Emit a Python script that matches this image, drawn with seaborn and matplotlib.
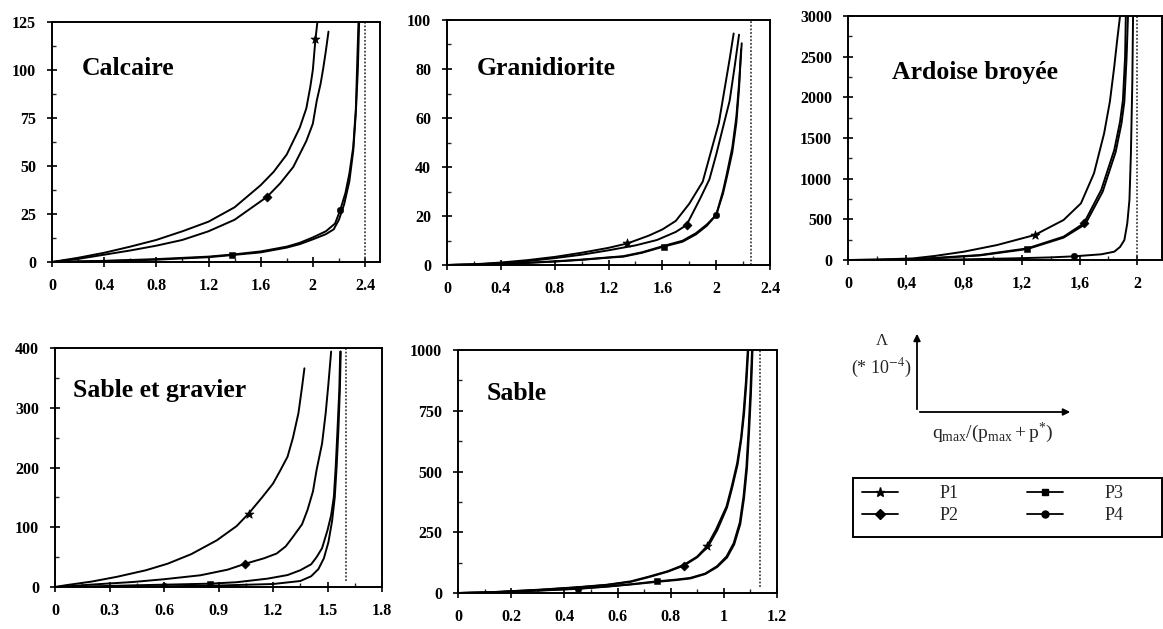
import numpy as np
import pandas as pd
import matplotlib
matplotlib.use("Agg")
import matplotlib.pyplot as plt
from matplotlib.lines import Line2D
from matplotlib.patches import Rectangle, FancyArrowPatch
from matplotlib.ticker import AutoMinorLocator, FixedLocator, FixedFormatter
import seaborn as sns

sns.set_theme(style="white")
plt.rcParams['font.family'] = ['Liberation Serif', 'DejaVu Serif']
plt.rcParams['mathtext.fontset'] = 'stix'

SERIES = ["P1", "P2", "P3", "P4"]
MARKERS = {"P1": "*", "P2": "D", "P3": "s", "P4": "o"}

# ---------------- Calcaire ----------------
calc_title = "Calcaire"
calc_p1_x = [0, 0.2, 0.4, 0.6, 0.8, 1.0, 1.2, 1.4, 1.6, 1.7, 1.8, 1.9, 1.95, 1.98, 2.0, 2.02, 2.035]
calc_p1_y = [0, 2.2, 4.8, 8, 11.5, 16, 21, 28.5, 40, 47, 56, 70, 80, 91, 100, 116, 125]
calc_p2_x = [0, 0.2, 0.4, 0.6, 0.8, 1.0, 1.2, 1.4, 1.65, 1.75, 1.85, 1.95, 2.0, 2.03, 2.06, 2.08, 2.1, 2.12]
calc_p2_y = [0, 1.6, 3.8, 6, 8.5, 11.5, 16, 22, 34, 41, 49.5, 63, 72, 84, 93, 101, 110, 120]
calc_p3_x = [0, 0.4, 0.8, 1.2, 1.38, 1.6, 1.8, 1.9, 2.0, 2.1, 2.16, 2.2, 2.24, 2.28, 2.31, 2.33, 2.345, 2.355]
calc_p3_y = [0, 0.5, 1.2, 2.5, 3.6, 5, 7.5, 9.3, 11.8, 14.5, 17, 22, 30, 42, 58, 78, 100, 125]
calc_p4_x = [0, 0.4, 0.8, 1.2, 1.4, 1.6, 1.8, 1.9, 2.0, 2.1, 2.17, 2.21, 2.25, 2.28, 2.31, 2.33, 2.34, 2.35]
calc_p4_y = [0, 0.6, 1.5, 2.8, 4, 5.5, 8, 10, 12.8, 16, 20, 27, 36, 46, 60, 80, 103, 125]
calc_asymptote = 2.4
calc_xticks = [0, 0.4, 0.8, 1.2, 1.6, 2, 2.4]
calc_xlabels = ["0", "0.4", "0.8", "1.2", "1.6", "2", "2.4"]
calc_yticks = [0, 25, 50, 75, 100, 125]

# ---------------- Granidiorite ----------------
gran_title = "Granidiorite"
gran_p1_x = [0, 0.2, 0.4, 0.6, 0.8, 1.0, 1.2, 1.34, 1.5, 1.6, 1.7, 1.8, 1.9, 1.96, 2.02, 2.06, 2.1, 2.13]
gran_p1_y = [0, 0.3, 1, 2, 3.3, 5, 7, 8.8, 12, 14.5, 18, 25, 34, 46, 58, 71, 84, 94.5]
gran_p2_x = [0, 0.2, 0.4, 0.6, 0.8, 1.0, 1.2, 1.4, 1.56, 1.7, 1.78, 1.88, 1.95, 2.0, 2.05, 2.1, 2.14, 2.17]
gran_p2_y = [0, 0.2, 0.8, 1.6, 2.8, 4.2, 6, 8, 10.2, 13.5, 16.3, 27, 35, 45, 56, 67, 82, 94]
gran_p3_x = [0, 0.4, 0.8, 1.0, 1.2, 1.31, 1.45, 1.61, 1.75, 1.85, 1.93, 2.0, 2.05, 2.08, 2.12, 2.15, 2.17, 2.19]
gran_p3_y = [0, 0.3, 1.4, 2.1, 3, 3.4, 5, 7.5, 9.5, 12.5, 16, 20.4, 30, 37.4, 48, 60.5, 74, 90.5]
gran_p4_x = [0, 0.4, 0.8, 1.0, 1.2, 1.31, 1.45, 1.61, 1.75, 1.85, 1.93, 2.0, 2.05, 2.08, 2.12, 2.15, 2.17, 2.185]
gran_p4_y = [0, 0.4, 1.5, 2.2, 3.1, 3.6, 5.2, 7.8, 9.9, 13, 16.5, 20.4, 29, 36, 46, 58, 72, 88]
gran_asymptote = 2.26
gran_xticks = [0, 0.4, 0.8, 1.2, 1.6, 2, 2.4]
gran_xlabels = ["0", "0.4", "0.8", "1.2", "1.6", "2", "2.4"]
gran_yticks = [0, 20, 40, 60, 80, 100]

# ---------------- Ardoise broyee ----------------
ard_title = "Ardoise broyée"
ard_p1_x = [0, 0.2, 0.45, 0.6, 0.8, 1.03, 1.29, 1.49, 1.61, 1.7, 1.77, 1.81, 1.84, 1.86, 1.88]
ard_p1_y = [0, 5, 20, 50, 102, 184, 307, 492, 697, 1066, 1557, 1950, 2377, 2700, 3000]
ard_p2_x = [0, 0.2, 0.45, 0.6, 0.91, 1.24, 1.49, 1.63, 1.75, 1.84, 1.88, 1.9, 1.915, 1.92]
ard_p2_y = [0, 2, 8, 25, 61, 143, 287, 451, 861, 1352, 1700, 1967, 2500, 3000]
ard_p3_x = [0, 0.2, 0.45, 0.6, 0.91, 1.24, 1.49, 1.64, 1.76, 1.85, 1.89, 1.91, 1.925, 1.935]
ard_p3_y = [0, 2, 7, 22, 56, 135, 275, 440, 840, 1330, 1680, 1950, 2480, 3000]
ard_p4_x = [0, 0.45, 0.8, 1.14, 1.4, 1.56, 1.75, 1.84, 1.88, 1.91, 1.93, 1.945, 1.955, 1.965, 1.97]
ard_p4_y = [0, 2, 8, 20, 32, 45, 70, 102, 160, 246, 450, 738, 1300, 2200, 3000]
ard_asymptote = 2.0
ard_xticks = [0, 0.4, 0.8, 1.2, 1.6, 2]
ard_xlabels = ["0", "0,4", "0,8", "1,2", "1,6", "2"]
ard_yticks = [0, 500, 1000, 1500, 2000, 2500, 3000]

# ---------------- Sable et gravier ----------------
sg_title = "Sable et gravier"
sg_p1_x = [0, 0.06, 0.2, 0.34, 0.5, 0.62, 0.75, 0.89, 1.0, 1.066, 1.14, 1.2, 1.24, 1.28, 1.31, 1.34, 1.36, 1.373]
sg_p1_y = [0, 3, 9, 17, 28, 39, 55, 78, 102, 123, 150, 173, 195, 218, 250, 291, 335, 366]
sg_p2_x = [0, 0.06, 0.2, 0.43, 0.6, 0.8, 0.95, 1.048, 1.15, 1.22, 1.27, 1.31, 1.36, 1.39, 1.42, 1.44, 1.47, 1.49, 1.505, 1.52]
sg_p2_y = [0, 1, 4, 8.4, 13, 19.6, 29, 39, 48, 56, 68, 84, 105, 129, 160, 196, 240, 291, 340, 394]
sg_p3_x = [0, 0.2, 0.43, 0.65, 0.855, 1.0, 1.17, 1.28, 1.35, 1.41, 1.44, 1.47, 1.5, 1.52, 1.535, 1.545, 1.555, 1.565, 1.57]
sg_p3_y = [0, 1, 2.8, 4.2, 5.6, 8, 14, 20, 28, 38, 50, 65, 95, 120, 151, 200, 263, 330, 394]
sg_p4_x = [0, 0.3, 0.6, 0.9, 1.2, 1.35, 1.41, 1.45, 1.48, 1.505, 1.525, 1.54, 1.55, 1.56, 1.568, 1.573]
sg_p4_y = [0, 0.5, 1.2, 2.5, 5, 10, 18, 30, 48, 75, 110, 150, 200, 263, 330, 394]
sg_asymptote = 1.6
sg_xticks = [0, 0.3, 0.6, 0.9, 1.2, 1.5, 1.8]
sg_xlabels = ["0", "0.3", "0.6", "0.9", "1.2", "1.5", "1.8"]
sg_yticks = [0, 100, 200, 300, 400]

# ---------------- Sable ----------------
sab_title = "Sable"
sab_p1_x = [0, 0.12, 0.31, 0.45, 0.56, 0.65, 0.72, 0.79, 0.85, 0.9, 0.936, 0.97, 1.01, 1.03, 1.05, 1.065, 1.074, 1.083, 1.09]
sab_p1_y = [0, 3, 14, 24, 34, 48, 68, 90, 116, 150, 192, 260, 356, 440, 534, 640, 740, 870, 1000]
sab_p2_x = [0, 0.12, 0.31, 0.45, 0.56, 0.65, 0.72, 0.79, 0.85, 0.9, 0.94, 0.975, 1.012, 1.032, 1.052, 1.066, 1.076, 1.085, 1.092]
sab_p2_y = [0, 3, 13, 23, 33, 46, 66, 88, 113, 147, 190, 258, 352, 436, 530, 636, 736, 866, 1000]
sab_p3_x = [0, 0.12, 0.31, 0.45, 0.56, 0.65, 0.748, 0.82, 0.873, 0.93, 0.974, 1.01, 1.037, 1.06, 1.074, 1.085, 1.093, 1.1, 1.106]
sab_p3_y = [0, 2, 11, 18, 27, 36, 48, 55, 62, 80, 110, 150, 205, 290, 397, 520, 671, 830, 1000]
sab_p4_x = [0, 0.12, 0.31, 0.45, 0.56, 0.65, 0.75, 0.82, 0.875, 0.93, 0.975, 1.012, 1.039, 1.062, 1.076, 1.087, 1.095, 1.102, 1.108]
sab_p4_y = [0, 2, 10, 17, 26, 35, 46, 53, 60, 78, 107, 146, 200, 284, 390, 512, 662, 820, 1000]
sab_asymptote = 1.135
sab_xticks = [0, 0.2, 0.4, 0.6, 0.8, 1, 1.2]
sab_xlabels = ["0", "0.2", "0.4", "0.6", "0.8", "1", "1.2"]
sab_yticks = [0, 250, 500, 750, 1000]

# index of the data point carrying each series' marker
panels = [
    dict(title=calc_title, rect=(52, 22, 380, 262), xlim=2.515,
         series=[(calc_p1_x, calc_p1_y, 15), (calc_p2_x, calc_p2_y, 8),
                 (calc_p3_x, calc_p3_y, 4), (calc_p4_x, calc_p4_y, 11)],
         asym=calc_asymptote, asym_y0=0, xticks=calc_xticks, xlabels=calc_xlabels,
         yticks=calc_yticks, title_xy=(0.091, 0.808)),
    dict(title=gran_title, rect=(447, 20, 770, 265), xlim=2.4,
         series=[(gran_p1_x, gran_p1_y, 7), (gran_p2_x, gran_p2_y, 10),
                 (gran_p3_x, gran_p3_y, 7), (gran_p4_x, gran_p4_y, 11)],
         asym=gran_asymptote, asym_y0=0, xticks=gran_xticks, xlabels=gran_xlabels,
         yticks=gran_yticks, title_xy=(0.093, 0.804)),
    dict(title=ard_title, rect=(848, 16, 1162, 260), xlim=2.17,
         series=[(ard_p1_x, ard_p1_y, 6), (ard_p2_x, ard_p2_y, 7),
                 (ard_p3_x, ard_p3_y, 5), (ard_p4_x, ard_p4_y, 5)],
         asym=ard_asymptote, asym_y0=0, xticks=ard_xticks, xlabels=ard_xlabels,
         yticks=ard_yticks, title_xy=(0.14, 0.77)),
    dict(title=sg_title, rect=(55, 348, 382, 587), xlim=1.8,
         series=[(sg_p1_x, sg_p1_y, 9), (sg_p2_x, sg_p2_y, 7),
                 (sg_p3_x, sg_p3_y, 4), (sg_p4_x, sg_p4_y, 2)],
         asym=sg_asymptote, asym_y0=10, xticks=sg_xticks, xlabels=sg_xlabels,
         yticks=sg_yticks, title_xy=(0.055, 0.824)),
    dict(title=sab_title, rect=(458, 350, 777, 593), xlim=1.2,
         series=[(sab_p1_x, sab_p1_y, 10), (sab_p2_x, sab_p2_y, 8),
                 (sab_p3_x, sab_p3_y, 6), (sab_p4_x, sab_p4_y, 3)],
         asym=sab_asymptote, asym_y0=25, xticks=sab_xticks, xlabels=sab_xlabels,
         yticks=sab_yticks, title_xy=(0.091, 0.823)),
]

W, H = 1163, 629
fig = plt.figure(figsize=(W / 100, H / 100), dpi=100)
fig.patch.set_facecolor("white")

for p in panels:
    l, t, r, b = p["rect"]
    ax = fig.add_axes([l / W, 1 - b / H, (r - l) / W, (b - t) / H])
    ymax = p["yticks"][-1]
    for name, (xs, ys, mi) in zip(SERIES, p["series"]):
        df = pd.DataFrame({"x": xs, "y": ys})
        sns.lineplot(data=df, x="x", y="y", sort=False, estimator=None,
                     color="black", lw=1.4, ax=ax)
        sns.scatterplot(x=[xs[mi]], y=[ys[mi]], marker=MARKERS[name], color="black",
                        s=22 if name != "P1" else 45, edgecolor="black", ax=ax, zorder=5)
    ax.plot([p["asym"], p["asym"]], [p["asym_y0"], ymax], color="#444444",
            lw=1.3, ls=(0, (1, 1)))
    ax.set_xlim(0, p["xlim"])
    ax.set_ylim(0, ymax)
    ax.xaxis.set_major_locator(FixedLocator(p["xticks"]))
    ax.xaxis.set_major_formatter(FixedFormatter(p["xlabels"]))
    ax.set_yticks(p["yticks"])
    ax.set_yticklabels([str(v) for v in p["yticks"]])
    ax.xaxis.set_minor_locator(AutoMinorLocator(2))
    ax.yaxis.set_minor_locator(AutoMinorLocator(2))
    ax.tick_params(which="major", direction="inout", length=7, width=1.2,
                   labelsize=11.5, colors="black", pad=8, bottom=True, left=True)
    ax.tick_params(which="minor", direction="in", length=3, width=1,
                   bottom=True, left=True)
    for lab in ax.get_xticklabels() + ax.get_yticklabels():
        lab.set_fontweight("bold")
    for sp in ax.spines.values():
        sp.set_visible(True)
        sp.set_color("black")
        sp.set_linewidth(1.4)
    ax.set_xlabel("")
    ax.set_ylabel("")
    ax.set_facecolor("white")
    ax.text(p["title_xy"][0], p["title_xy"][1], p["title"], transform=ax.transAxes,
            fontsize=18.5, fontweight="bold", color="black", ha="left", va="center")


def fx(px):
    return px / W


def fy(py):
    return 1 - py / H


# schematic axes
ox, oy = 917, 412
fig.add_artist(FancyArrowPatch((fx(ox), fy(oy)), (fx(ox), fy(331)),
               transform=fig.transFigure, arrowstyle="-|>", mutation_scale=10,
               color="black", lw=1.3))
fig.add_artist(FancyArrowPatch((fx(ox), fy(oy)), (fx(1073), fy(oy)),
               transform=fig.transFigure, arrowstyle="-|>", mutation_scale=10,
               color="black", lw=1.3))
fig.text(fx(882), fy(341), "Λ", ha="center", va="center", fontsize=12)
fig.text(fx(881), fy(368), "(* 10$^{-4}$)", ha="center", va="center", fontsize=13)
fig.text(fx(993), fy(433), r"$\mathregular{q_{max}/(p_{max} + p^{*})}$",
         ha="center", va="center", fontsize=14)

# legend frame and entries
fig.add_artist(Rectangle((fx(853), fy(537)), (1162 - 853) / W, (537 - 478) / H,
               transform=fig.transFigure, fill=False, edgecolor="black", lw=1.4))
handles = [Line2D([0], [0], color="black", lw=1.3, marker=MARKERS[s],
                  markersize=6.5 if s == "P1" else 5) for s in SERIES]
leg = fig.legend(handles, SERIES, ncol=2, loc="upper left",
                 bbox_to_anchor=(fx(862), fy(485)), frameon=False,
                 fontsize=13, handlelength=2.0, handletextpad=2.3, columnspacing=3.8,
                 borderaxespad=0, labelspacing=0.3, borderpad=0)

fig.savefig("out.png", dpi=100, facecolor="white")
